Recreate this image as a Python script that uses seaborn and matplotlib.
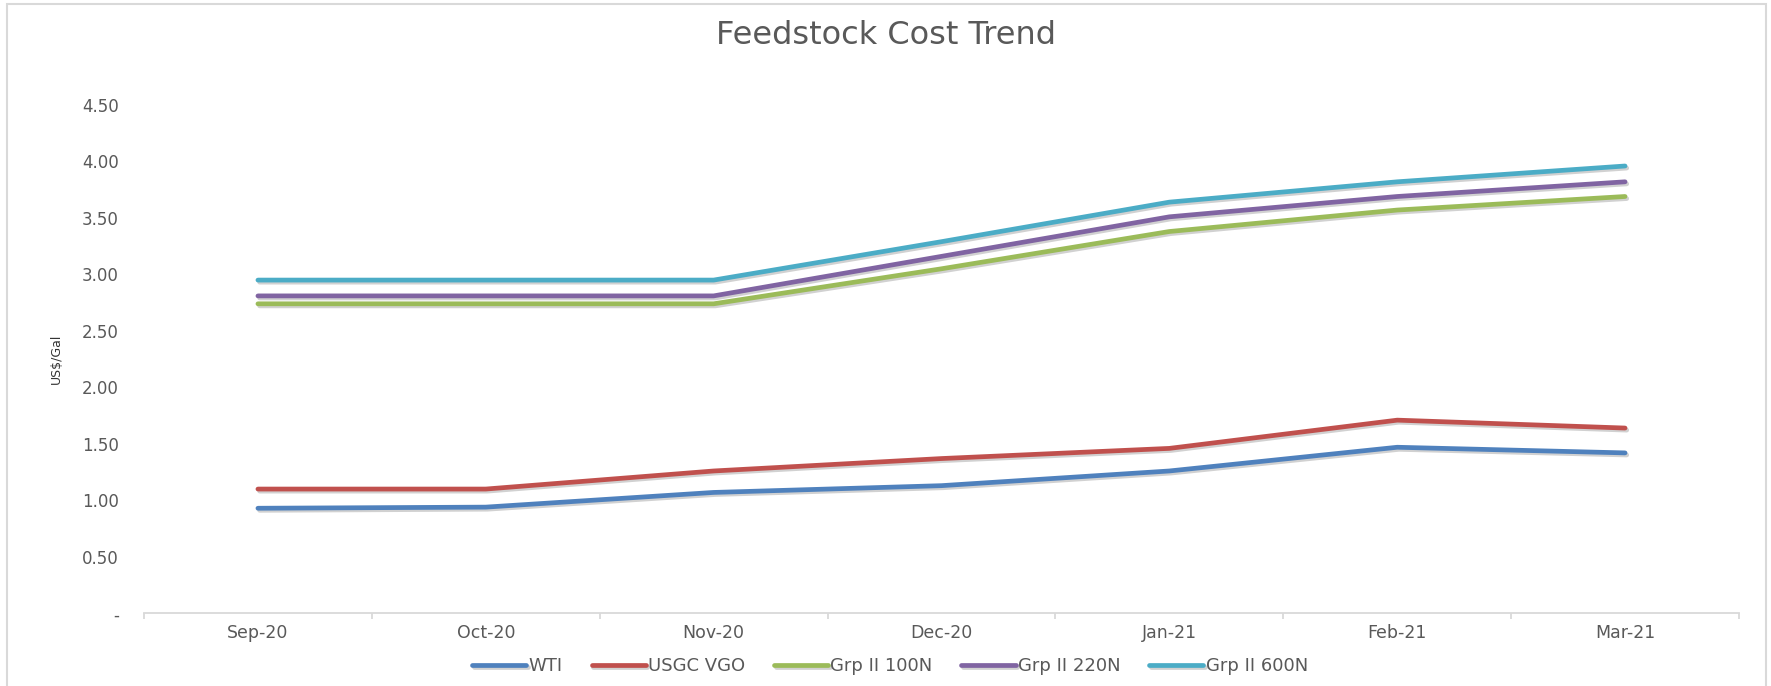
import pandas as pd
import matplotlib
matplotlib.use("Agg")
import matplotlib.pyplot as plt
import matplotlib.patheffects as pe
from matplotlib.patches import Rectangle
from matplotlib.ticker import FixedLocator, FuncFormatter
import seaborn as sns

# data (US$/Gal)
months = ["Sep-20", "Oct-20", "Nov-20", "Dec-20", "Jan-21", "Feb-21", "Mar-21"]
wti = [0.93, 0.94, 1.07, 1.13, 1.26, 1.47, 1.42]
usgc_vgo = [1.10, 1.10, 1.26, 1.37, 1.46, 1.71, 1.64]
grp2_100n = [2.74, 2.74, 2.74, 3.05, 3.38, 3.57, 3.69]
grp2_220n = [2.81, 2.81, 2.81, 3.16, 3.51, 3.69, 3.82]
grp2_600n = [2.95, 2.95, 2.95, 3.29, 3.64, 3.82, 3.96]

series = {
    "WTI": wti,
    "USGC VGO": usgc_vgo,
    "Grp II 100N": grp2_100n,
    "Grp II 220N": grp2_220n,
    "Grp II 600N": grp2_600n,
}
colors = ["#4F81BD", "#C0504D", "#9BBB59", "#8064A2", "#4BACC6"]

df = pd.concat(
    [pd.DataFrame({"Month": months, "Price": vals, "Series": name})
     for name, vals in series.items()],
    ignore_index=True,
)

sns.set_theme(style="white")
plt.rcParams["font.family"] = ["DejaVu Sans"]

W, H = 1771, 686
fig = plt.figure(figsize=(W / 100, H / 100), dpi=100)
ax = fig.add_axes([144 / W, 1 - 613.3 / H, (1739 - 144) / W, (613.3 - 105) / H])

sns.lineplot(
    data=df, x="Month", y="Price", hue="Series",
    palette=colors, linewidth=3.4, sort=False, ax=ax,
    solid_capstyle="round", solid_joinstyle="round",
)

# soft drop shadow like the spreadsheet chart
shadow = [pe.SimpleLineShadow(offset=(1.2, -1.5), shadow_color="black", alpha=0.18),
          pe.Normal()]
for line in ax.get_lines():
    line.set_path_effects(shadow)

grey_text = "#595959"
ax.set_xlim(-0.5, 6.5)
ax.set_ylim(0, 4.5)
ax.set_yticks([0, 0.5, 1, 1.5, 2, 2.5, 3, 3.5, 4, 4.5])
ax.yaxis.set_major_formatter(FuncFormatter(lambda v, p: "-" if v == 0 else f"{v:.2f}"))
ax.set_xticks(range(len(months)))
ax.set_xticklabels(months)
ax.xaxis.set_minor_locator(FixedLocator([i - 0.5 for i in range(len(months) + 1)]))

for s in ["top", "right", "left"]:
    ax.spines[s].set_visible(False)
ax.spines["bottom"].set_color("#D9D9D9")
ax.spines["bottom"].set_linewidth(1.3)

ax.tick_params(axis="y", length=0, pad=18, labelsize=12, labelcolor=grey_text)
ax.tick_params(axis="x", which="major", length=0, pad=8, labelsize=12.5, labelcolor=grey_text)
ax.tick_params(axis="x", which="minor", bottom=True, length=4, width=1.3, color="#D9D9D9")

ax.set_xlabel("")
ax.set_ylabel("US$/Gal", fontsize=9, color="#333333")
ax.yaxis.set_label_coords(-0.051, 0.5)

fig.suptitle("Feedstock Cost Trend", x=0.5, y=1 - 35 / H, va="center",
             fontsize=23, color=grey_text)

handles, labels = ax.get_legend_handles_labels()
ax.get_legend().remove()
leg = fig.legend(
    handles, labels, loc="center", bbox_to_anchor=(890 / W, 1 - 666 / H),
    ncol=5, frameon=False, fontsize=13, handlelength=3.0,
    handletextpad=0.12, columnspacing=1.6,
)
for t in leg.get_texts():
    t.set_color(grey_text)

# light border around the chart area
fig.patches.append(Rectangle((7 / W, -0.02), (1766 - 7) / W, 1.02 - 4 / H,
                             transform=fig.transFigure, fill=False,
                             edgecolor="#D9D9D9", linewidth=1.5))

fig.savefig("out.png", dpi=100)
